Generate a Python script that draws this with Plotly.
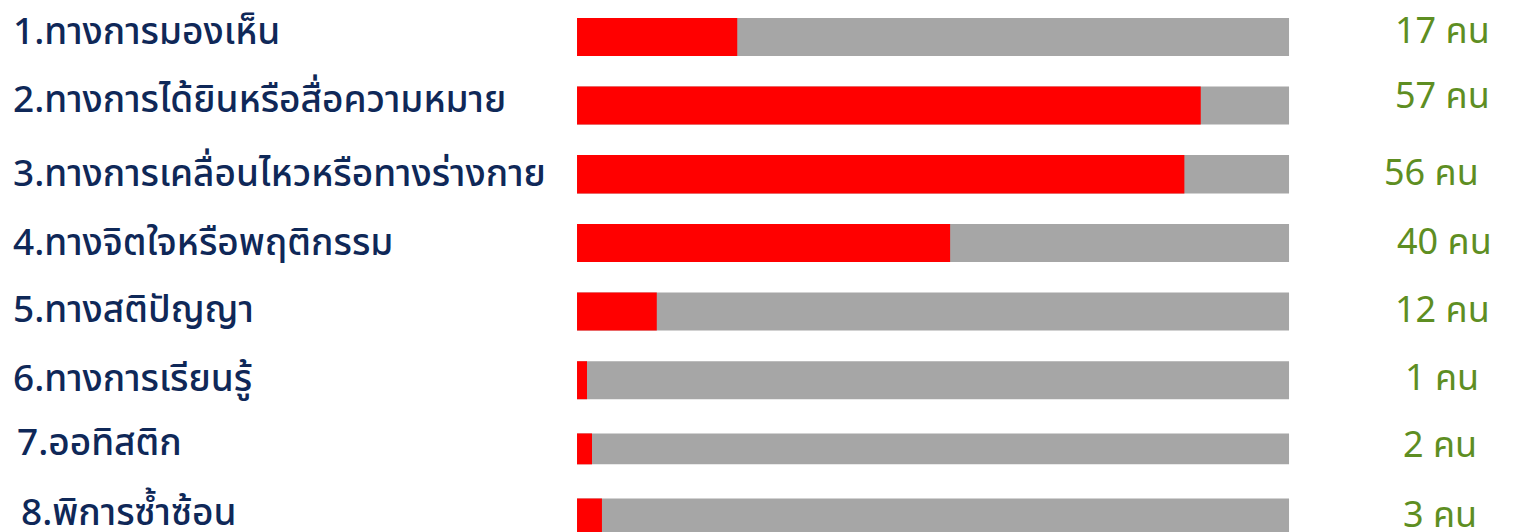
import plotly.graph_objects as go

categories = [
    "1.ทางการมองเห็น",
    "2.ทางการได้ยินหรือสื่อความหมาย",
    "3.ทางการเคลื่อนไหวหรือทางร่างกาย",
    "4.ทางจิตใจหรือพฤติกรรม",
    "5.ทางสติปัญญา",
    "6.ทางการเรียนรู้",
    "7.ออทิสติก",
    "8.พิการซ้ำซ้อน",
]
counts = [17, 57, 56, 40, 12, 1, 2, 3]
bar_percent = [22.5, 87.6, 85.3, 52.4, 11.2, 1.4, 2.1, 3.5]
full_percent = [100] * len(categories)
value_labels = [f"{c} คน" for c in counts]

ypos = list(range(len(categories)))

THAI_FONT = "Noto Sans Thai, Tahoma, Loma, Garuda, sans-serif"
NAVY = "#0f2858"
GREEN = "#5e8e22"

# per-row style / placement tweaks to mimic the hand-placed infographic
bar_widths = [0.553, 0.553, 0.56, 0.553, 0.553, 0.553, 0.45, 0.553]
bar_dy = [1.5, 2.5, -2.5, -3, -1.5, -2, 2.5, 1.5]          # label shift (px) to follow row
label_dx = [0, 0, 0, 0, 0, 0, 4, 8]
value_dx = [0, 0, -11, 2, 0, 0, -2, -2]
value_dy = [3, 6, 3, 3, 2, 3, 0, 0]

fig = go.Figure()
fig.add_trace(go.Bar(
    y=ypos, x=full_percent, orientation="h",
    marker=dict(color="#a6a6a6", line=dict(width=0)),
    width=bar_widths, hoverinfo="skip", showlegend=False,
))
fig.add_trace(go.Bar(
    y=ypos, x=bar_percent, orientation="h",
    marker=dict(color="#ff0000", line=dict(width=0)),
    width=bar_widths, hoverinfo="skip", showlegend=False,
))

for i, (cat, lab) in enumerate(zip(categories, value_labels)):
    fig.add_annotation(
        x=0.002, xref="paper", y=i, yref="y", text=cat, showarrow=False,
        xanchor="left", yanchor="middle", xshift=label_dx[i], yshift=2 + bar_dy[i],
        font=dict(family=THAI_FONT, size=37, color=NAVY, weight=500),
    )
    fig.add_annotation(
        x=0.946, xref="paper", y=i, yref="y", text=lab, showarrow=False,
        xanchor="center", yanchor="middle", xshift=value_dx[i],
        yshift=value_dy[i] + bar_dy[i],
        font=dict(family=THAI_FONT, size=36, color=GREEN),
    )

fig.update_layout(
    width=1516, height=532,
    margin=dict(l=0, r=0, t=0, b=0),
    paper_bgcolor="white", plot_bgcolor="white",
    barmode="overlay",
    xaxis=dict(range=[-79.92, 133.0], visible=False, fixedrange=True),
    yaxis=dict(range=[7.327, -0.421], visible=False, fixedrange=True),
)

fig.write_html("out.html")
